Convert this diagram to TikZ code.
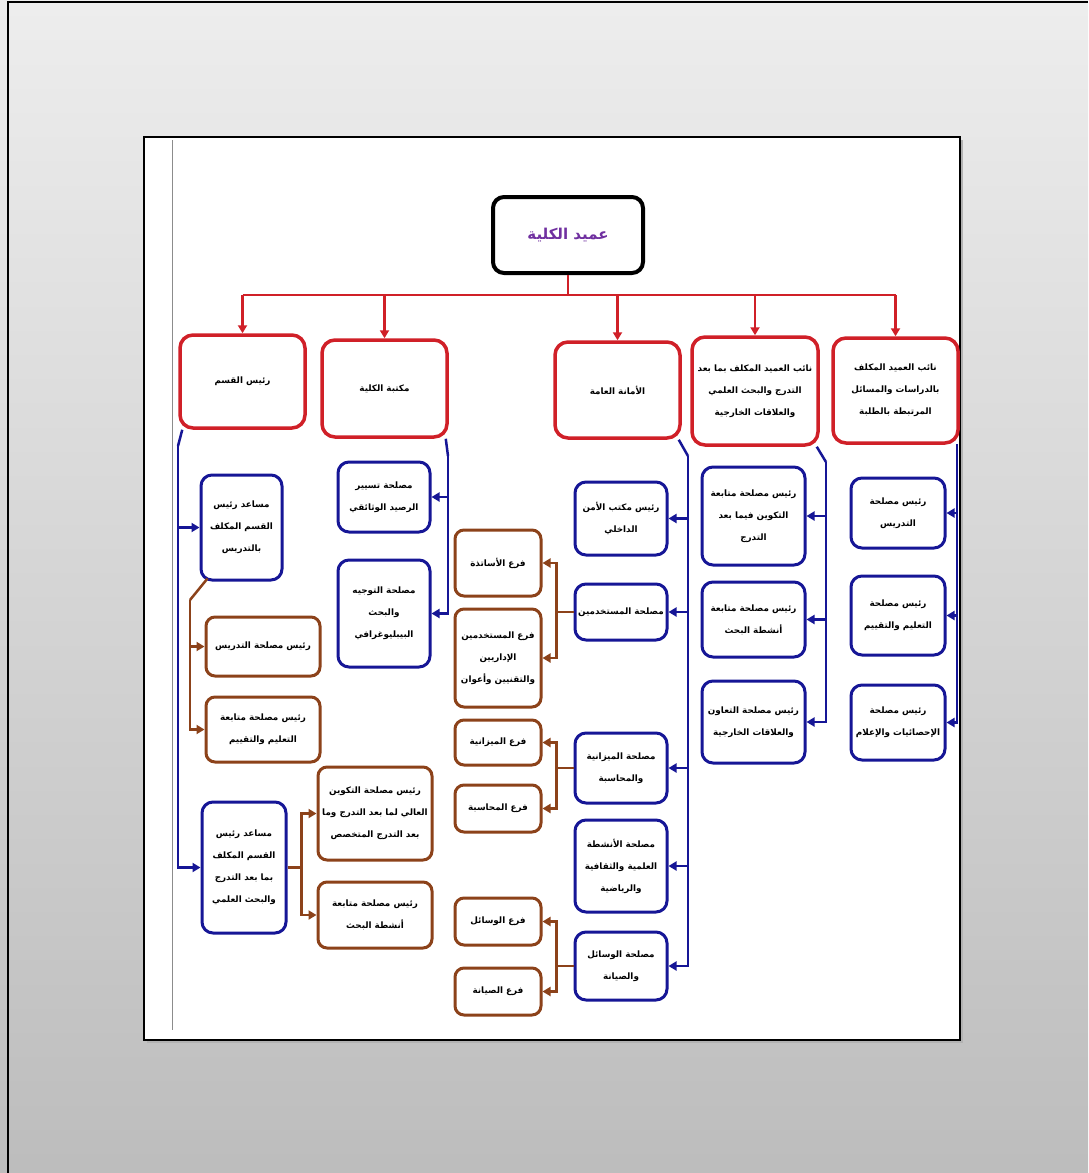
\documentclass[tikz,border=0pt]{standalone}
\usepackage{fontspec}
\usetikzlibrary{arrows.meta}
\TeXXeTstate=1
\newfontfamily\arabicfont[Script=Arabic]{DejaVu Sans}
\newcommand{\artxt}[1]{\beginR #1\endR}
\definecolor{orgred}{RGB}{208,32,40}
\definecolor{orgblue}{RGB}{22,22,150}
\definecolor{orgbrown}{RGB}{140,66,26}
\definecolor{orgpurple}{RGB}{112,48,160}
\tikzset{
  box/.style={rectangle, fill=white, align=center, inner sep=2pt,
    font=\arabicfont\bfseries\fontsize{8.8}{22}\selectfont},
  deanbox/.style={box, draw=black, line width=4pt, rounded corners=11pt,
    text=orgpurple, font=\arabicfont\bfseries\fontsize{15}{18}\selectfont},
  redbox/.style={box, draw=orgred, line width=3.5pt, rounded corners=13pt},
  bluebox/.style={box, draw=orgblue, line width=3pt, rounded corners=11pt},
  brownbox/.style={box, draw=orgbrown, line width=3pt, rounded corners=9pt},
  redline/.style={draw=orgred, line width=2.5pt},
  blueline/.style={draw=orgblue, line width=2.5pt},
  brownline/.style={draw=orgbrown, line width=2.5pt},
  tip/.style={-{Triangle[length=8pt,width=9pt]}},
  sz/.style n args={2}{minimum width=#1pt, minimum height=#2pt}
}
\begin{document}
\begin{tikzpicture}[x=1pt,y=-1pt]
\useasboundingbox (0,0) rectangle (1088,1173);
% page background
\shade[top color=black!7, bottom color=black!26] (0,0) rectangle (1088,1173);
\draw[line width=2pt] (8,1173) -- (8,2) -- (1088,2);
% sheet
\fill[black!30] (147,140) rectangle (963,1043);
\draw[line width=2.2pt, fill=white] (144,137) rectangle (960,1040);
\draw[black!45, line width=0.8pt] (172,140) -- (172,1030);

% top level
\node[deanbox, sz={150}{76}] (dean) at (568,235) {\artxt{عميد الكلية}};

% first level
\node[redbox, sz={125}{93}]  (qism)  at (242.5,381.5) {\artxt{رئيس القسم}};
\node[redbox, sz={125}{97}]  (lib)   at (384.5,388.5) {\artxt{مكتبة الكلية}};
\node[redbox, sz={125}{96}]  (amana) at (617.5,390) {\artxt{الأمانة العامة}};
\node[redbox, sz={126}{108}] (vpg)   at (755,391) {\artxt{نائب العميد المكلف بما بعد}\\\artxt{التدرج والبحث العلمي}\\\artxt{والعلاقات الخارجية}};
\node[redbox, sz={125}{105}] (vst)   at (895.5,390.5) {\artxt{نائب العميد المكلف}\\\artxt{بالدراسات والمسائل}\\\artxt{المرتبطة بالطلبة}};

\coordinate (bus) at (568,295);
\draw[redline] (dean.south) -- (bus);
\draw[redline] (qism.north |- bus) -- (vst.north |- bus);
\foreach \n in {qism,lib,amana,vpg,vst}
  \draw[redline, tip] (\n.north |- bus) -- (\n.north);

% studies column
\node[bluebox, sz={94}{70}] (s1) at (898,513) {\artxt{رئيس مصلحة}\\\artxt{التدريس}};
\node[bluebox, sz={94}{79}] (s2) at (898,615.5) {\artxt{رئيس مصلحة}\\\artxt{التعليم والتقييم}};
\node[bluebox, sz={94}{75}] (s3) at (898,722.5) {\artxt{رئيس مصلحة}\\\artxt{الإحصائيات والإعلام}};
\coordinate (vstb) at (957,444);
\foreach \n in {s1,s2,s3} \draw[blueline, tip] (vstb) |- (\n.east);

% post-graduation column
\node[bluebox, sz={103}{98}] (t1) at (753.5,516) {\artxt{رئيس مصلحة متابعة}\\\artxt{التكوين فيما بعد}\\\artxt{التدرج}};
\node[bluebox, sz={103}{75}] (t2) at (753.5,619.5) {\artxt{رئيس مصلحة متابعة}\\\artxt{أنشطة البحث}};
\node[bluebox, sz={103}{82}] (t3) at (753.5,722) {\artxt{رئيس مصلحة التعاون}\\\artxt{والعلاقات الخارجية}};
\coordinate (vpgb) at (826,462);
\draw[blueline] ([xshift=-3pt]vpg.south east) -- (vpgb);
\foreach \n in {t1,t2,t3} \draw[blueline, tip] (vpgb) |- (\n.east);

% general secretariat column
\node[bluebox, sz={92}{73}] (m1) at (621,518.5) {\artxt{رئيس مكتب الأمن}\\\artxt{الداخلي}};
\node[bluebox, sz={92}{56}] (m2) at (621,612) {\artxt{مصلحة المستخدمين}};
\node[bluebox, sz={92}{70}] (m3) at (621,768) {\artxt{مصلحة الميزانية}\\\artxt{والمحاسبة}};
\node[bluebox, sz={92}{92}] (m4) at (621,866) {\artxt{مصلحة الأنشطة}\\\artxt{العلمية والثقافية}\\\artxt{والرياضية}};
\node[bluebox, sz={92}{68}] (m5) at (621,966) {\artxt{مصلحة الوسائل}\\\artxt{والصيانة}};
\coordinate (amb) at (688,456);
\draw[blueline] ([xshift=-3pt]amana.south east) -- (amb);
\foreach \n in {m1,m2,m3,m4,m5} \draw[blueline, tip] (amb) |- (\n.east);

% branches
\node[brownbox, sz={86}{66}] (b1) at (498,563) {\artxt{فرع الأساتذة}};
\node[brownbox, sz={86}{98}] (b2) at (498,658) {\artxt{فرع المستخدمين}\\\artxt{الإداريين}\\\artxt{والتقنيين وأعوان}};
\node[brownbox, sz={86}{45}] (b3) at (498,742.5) {\artxt{فرع الميزانية}};
\node[brownbox, sz={86}{47}] (b4) at (498,808.5) {\artxt{فرع المحاسبة}};
\node[brownbox, sz={86}{47}] (b5) at (498,921.5) {\artxt{فرع الوسائل}};
\node[brownbox, sz={86}{47}] (b6) at (498,991.5) {\artxt{فرع الصيانة}};
\foreach \p/\c in {m2/b1,m2/b2,m3/b3,m3/b4,m5/b5,m5/b6}
  \draw[brownline, tip] (\p.west) -- ([xshift=-17pt]\p.west) |- (\c.east);

% library column
\node[bluebox, sz={92}{70}]  (l1) at (384,497) {\artxt{مصلحة تسيير}\\\artxt{الرصيد الوثائقي}};
\node[bluebox, sz={92}{107}] (l2) at (384,613.5) {\artxt{مصلحة التوجيه}\\\artxt{والبحث}\\\artxt{البيبليوغرافي}};
\coordinate (libb) at (448,456);
\draw[blueline] ([xshift=-3pt]lib.south east) -- (libb);
\foreach \n in {l1,l2} \draw[blueline, tip] (libb) |- (\n.east);

% department column
\node[bluebox, sz={81}{105}]  (a1) at (241.5,527.5) {\artxt{مساعد رئيس}\\\artxt{القسم المكلف}\\\artxt{بالتدريس}};
\node[brownbox, sz={114}{59}] (a2) at (263,646.5) {\artxt{رئيس مصلحة التدريس}};
\node[brownbox, sz={114}{65}] (a3) at (263,729.5) {\artxt{رئيس مصلحة متابعة}\\\artxt{التعليم والتقييم}};
\node[bluebox, sz={84}{131}]  (a4) at (244,867.5) {\artxt{مساعد رئيس}\\\artxt{القسم المكلف}\\\artxt{بما بعد التدرج}\\\artxt{والبحث العلمي}};
\node[brownbox, sz={114}{93}] (a5) at (375,813.5) {\artxt{رئيس مصلحة التكوين}\\\artxt{العالي لما بعد التدرج وما}\\\artxt{بعد التدرج المتخصص}};
\node[brownbox, sz={114}{66}] (a6) at (375,915) {\artxt{رئيس مصلحة متابعة}\\\artxt{أنشطة البحث}};

\coordinate (qb) at (178,446);
\draw[blueline] ([xshift=4pt]qism.south west) -- (qb);
\foreach \n in {a1,a4} \draw[blueline, tip] (qb) |- (\n.west);

\coordinate (a1b) at (190,600);
\draw[brownline] ([xshift=8pt,yshift=3pt]a1.south west) -- (a1b);
\foreach \n in {a2,a3} \draw[brownline, tip] (a1b) |- (\n.west);

\foreach \n in {a5,a6}
  \draw[brownline, tip] (a4.east) -- ([xshift=14pt]a4.east) |- (\n.west);
\end{tikzpicture}
\end{document}
